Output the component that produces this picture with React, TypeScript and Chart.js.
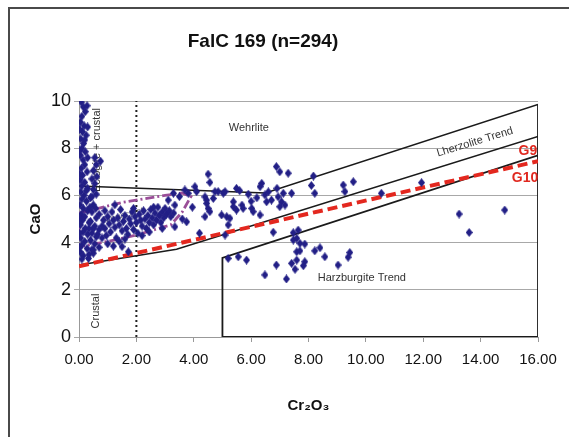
import { useEffect, useRef } from "react";
import { Chart, registerables } from "chart.js";
Chart.register(...registerables);

const chartTitle = "FalC 169 (n=294)";
const xAxisTitle = "Cr₂O₃";
const yAxisTitle = "CaO";
const xMin = 0, xMax = 16, xStep = 2;
const yMin = 0, yMax = 10, yStep = 2;

// Garnet analyses [Cr2O3, CaO]
const columnPts = [
  [0.08,9.95],[0.15,9.75],[0.22,9.55],[0.1,9.35],[0.05,9.1],[0.18,8.95],[0.12,8.7],[0.25,8.55],[0.06,8.4],[0.16,8.2],
  [0.1,8.0],[0.22,7.85],[0.05,7.7],[0.14,7.5],[0.2,7.3],[0.08,7.15],[0.28,7.0],[0.12,6.85],[0.04,6.65],[0.2,6.55],
  [0.1,6.4],[0.3,6.3],[0.06,6.15],[0.18,6.0],[0.1,5.85],[0.26,5.75],[0.04,5.6],[0.15,5.45],[0.3,5.35],[0.08,5.2],
  [0.2,5.1],[0.12,4.95],[0.35,4.85],[0.05,4.75],[0.22,4.6],[0.14,4.45],[0.3,4.35],[0.06,4.2],[0.2,4.05],[0.1,3.9],
  [0.28,3.75],[0.05,3.6],[0.15,3.45],[0.1,3.3],[0.3,8.9],[0.28,9.8],[0.2,8.35],[0.3,7.6],[0.25,6.2],[0.02,5.0],
  [0.02,4.4],[0.02,3.8],[0.02,7.9],[0.02,8.8],[0.02,6.9],
];
const lowClusterPts = [
  [0.4,5.9],[0.5,5.6],[0.45,5.3],[0.6,5.05],[0.4,4.9],[0.55,4.7],[0.7,4.55],[0.45,4.4],[0.6,4.25],[0.4,4.1],
  [0.55,3.95],[0.7,3.8],[0.45,3.7],[0.35,3.5],[0.5,4.6],[0.65,4.35],[0.38,5.5],[0.7,5.2],[0.35,4.6],[0.8,4.2],
  [0.58,5.45],[0.5,3.55],[0.33,3.33],[0.5,3.69],
];
const eclogitePts = [
  [0.55,7.6],[0.75,7.45],[0.6,7.3],[0.5,7.05],[0.45,6.7],[0.55,6.5],[0.5,6.25],[0.6,6.05],[0.45,5.95],[0.62,6.8],
];
const megacrystPts = [
  [0.85,4.95],[0.9,4.6],[0.95,4.3],[1.0,5.1],[1.05,4.8],[1.1,4.45],[1.15,5.3],[1.2,4.95],[1.25,4.65],[1.3,4.2],
  [1.35,5.05],[1.4,4.75],[1.45,5.4],[1.5,4.5],[1.55,4.9],[1.6,5.15],[1.65,4.6],[1.7,4.35],[1.75,5.0],[1.8,4.8],
  [1.85,5.3],[1.9,4.55],[1.95,5.1],[2.0,4.85],[2.05,4.4],[2.1,5.2],[2.15,4.95],[2.2,4.7],[2.25,5.35],[2.3,5.0],
  [2.35,4.6],[2.4,5.15],[2.45,4.85],[2.5,5.4],[2.55,5.05],[2.6,4.75],[2.65,5.25],[2.7,4.95],[2.75,5.5],[2.8,5.15],
  [2.85,4.85],[2.9,5.3],[2.95,5.05],[3.0,5.45],[3.05,5.2],[3.15,5.35],[3.2,5.1],[3.3,5.25],[1.25,5.6],[0.9,5.35],
  [1.6,4.15],[2.2,4.3],[1.0,3.95],[1.2,3.85],[1.5,3.83],[1.72,3.61],[2.45,4.45],[2.6,5.5],[1.9,5.45],[1.4,4.05],
  [0.8,4.7],[2.9,4.6],
];
const wehrlitePts = [
  [3.11,5.8],[3.29,6.09],[3.34,5.59],[3.69,6.23],[3.81,6.09],[4.04,6.37],[4.1,6.16],[4.5,6.9],[4.56,6.55],[3.75,4.88],
  [3.34,4.67],[4.45,5.66],[4.5,5.45],[4.39,5.1],[4.68,5.87],[4.85,6.16],[5.03,6.09],[5.15,5.1],[5.09,4.32],[4.39,5.94],
  [4.45,5.8],[4.56,5.31],[4.74,6.16],[5.09,6.16],[5.49,6.3],[5.38,5.73],[5.38,5.52],[5.49,5.38],[5.68,5.59],[5.72,5.45],
  [4.97,5.17],[5.26,5.03],[5.2,4.75],[6.02,5.45],[6.07,5.31],[6.31,5.17],[6.37,6.51],[6.31,6.37],[6.48,6.02],[6.54,5.73],
  [6.71,5.8],[6.88,7.22],[7.0,7.0],[7.29,6.94],[6.94,5.94],[7.06,5.73],[7.12,6.09],[7.0,5.52],[7.18,5.59],[7.41,6.09],
  [3.5,5.95],[3.95,5.5],[3.6,5.0],[4.2,4.4],[5.9,6.05],[6.2,5.9],[5.6,6.2],[6.0,5.75],[6.6,6.15],[6.9,6.3],
  [8.17,6.82],[8.1,6.42],[8.22,6.09],[9.21,6.44],[9.27,6.16],[9.56,6.58],[10.54,6.09],[11.94,6.54],
];
const harzburgitePts = [
  [5.2,3.33],[5.55,3.4],[5.84,3.26],[6.88,3.05],[6.48,2.63],[7.23,2.46],[7.47,4.42],[7.64,4.53],[6.77,4.44],[7.7,3.97],
  [7.87,3.94],[7.59,3.61],[7.7,3.65],[8.22,3.65],[8.4,3.78],[8.57,3.4],[9.44,3.58],[9.38,3.38],[9.03,3.05],[7.41,3.12],
  [7.59,3.26],[7.87,3.19],[7.82,3.02],[7.53,2.87],[7.47,4.11],[7.59,4.18],
];
const outlierPts = [[13.25,5.21],[13.6,4.43],[14.84,5.38]];

// Field boundaries [Cr2O3, CaO]
const wehrliteBoundary = [[0,6.4],[6.5,6.1],[16,9.85]];
const lherzoliteLower = [[0,3.05],[3.4,3.72],[16,8.5]];
const harzburgiteBox = [[16,9.85],[16,0],[5,0],[5,3.35],[16,7.7]];
const g9g10Line = [[0,3.0],[16,7.45]];
const crustalDivide = [[2,0],[2,10]];
const megacrystField = [[0,5.25],[1.5,5.7],[3,6.0],[3.6,6.1],[3.9,5.95],[3.6,5.3],[3.2,4.75],[2.0,4.32],[1.0,4.05],[0,3.83],[0,5.25]];

// Field labels [text, x, y, rotationDeg]
const fieldLabels = [
  ["Wehrlite", 5.92, 8.86, 0],
  ["Lherzolite Trend", 13.8, 8.26, -17],
  ["Harzburgite Trend", 9.86, 2.5, 0],
  ["Crustal", 0.59, 1.1, -90],
  ["Eclogite + crustal", 0.63, 7.92, -90],
  ["Megacryst", 1.55, 5.15, -15],
];
const redLabels = [["G9", 15.65, 7.88], ["G10", 15.55, 6.74]];

const toXY = (arr: number[][]) => arr.map(([x, y]) => ({ x, y }));

function makeDiamond(color: string) {
  const c = document.createElement("canvas");
  c.width = 7;
  c.height = 9;
  const g = c.getContext("2d")!;
  g.fillStyle = color;
  g.beginPath();
  g.moveTo(3.5, 0);
  g.lineTo(7, 4.5);
  g.lineTo(3.5, 9);
  g.lineTo(0, 4.5);
  g.closePath();
  g.fill();
  return c;
}

export default function App() {
  const ref = useRef<HTMLCanvasElement | null>(null);
  useEffect(() => {
    if (!ref.current) return;
    const font = "'Liberation Sans', Arial, sans-serif";
    const points = [
      ...columnPts, ...lowClusterPts, ...eclogitePts, ...megacrystPts,
      ...wehrlitePts, ...harzburgitePts, ...outlierPts,
    ];
    const lineDs = (data: number[][], color: string, width: number, dash: number[]) => ({
      type: "scatter" as const,
      data: toXY(data),
      showLine: true,
      borderColor: color,
      borderWidth: width,
      borderDash: dash,
      pointRadius: 0,
      pointHoverRadius: 0,
      fill: false,
      tension: 0,
    });
    const annot = {
      id: "annot",
      beforeDraw(chart: any) {
        const ctx = chart.ctx;
        ctx.save();
        ctx.fillStyle = "#ffffff";
        ctx.fillRect(0, 0, chart.width, chart.height);
        ctx.strokeStyle = "#4a4a4a";
        ctx.lineWidth = 2;
        ctx.beginPath();
        ctx.moveTo(9, 437);
        ctx.lineTo(9, 8);
        ctx.lineTo(569, 8);
        ctx.stroke();
        ctx.fillStyle = "#111";
        ctx.font = `bold 19px ${font}`;
        ctx.textAlign = "center";
        ctx.textBaseline = "middle";
        ctx.fillText(chartTitle, 263, 42);
        ctx.restore();
      },
      beforeDatasetsDraw(chart: any) {
        const ctx = chart.ctx;
        const xs = chart.scales.x, ys = chart.scales.y;
        ctx.save();
        for (const [text, x, y, rot] of fieldLabels as any[]) {
          ctx.save();
          ctx.translate(xs.getPixelForValue(x), ys.getPixelForValue(y));
          ctx.rotate((rot * Math.PI) / 180);
          ctx.font = text === "Megacryst" ? `9px ${font}` : `11px ${font}`;
          ctx.fillStyle = text === "Megacryst" ? "#777" : "#333";
          ctx.textAlign = "center";
          ctx.textBaseline = "middle";
          ctx.fillText(text, 0, 0);
          ctx.restore();
        }
        ctx.restore();
      },
      afterDatasetsDraw(chart: any) {
        const ctx = chart.ctx;
        const xs = chart.scales.x, ys = chart.scales.y;
        ctx.save();
        ctx.font = `bold 14px ${font}`;
        ctx.fillStyle = "#e0281f";
        ctx.textAlign = "center";
        ctx.textBaseline = "middle";
        for (const [text, x, y] of redLabels as any[]) {
          ctx.fillText(text, xs.getPixelForValue(x), ys.getPixelForValue(y));
        }
        ctx.restore();
      },
    };
    const chart = new Chart(ref.current, {
      type: "scatter",
      data: {
        datasets: [
          {
            data: toXY(points),
            pointStyle: makeDiamond("#221f86"),
            pointRadius: 4,
            backgroundColor: "#221f86",
            borderColor: "#221f86",
            borderWidth: 0,
          } as any,
          lineDs(g9g10Line, "#e3281f", 4, [10, 5]),
          lineDs(megacrystField, "#9a4e98", 2.8, [9, 3, 2, 3]),
          lineDs(wehrliteBoundary, "#1a1a1a", 1.5, []),
          lineDs(lherzoliteLower, "#1a1a1a", 1.5, []),
          lineDs(harzburgiteBox, "#1a1a1a", 1.8, []),
          lineDs(crustalDivide, "#222", 2, [2, 3]),
        ],
      },
      options: {
        animation: false,
        responsive: false,
        events: [],
        layout: { padding: { left: 0, right: 31, top: 101, bottom: 0 } },
        plugins: { legend: { display: false }, tooltip: { enabled: false }, title: { display: false } },
        scales: {
          x: {
            type: "linear",
            min: xMin,
            max: xMax,
            ticks: {
              stepSize: xStep,
              color: "#111",
              font: { size: 15, family: font },
              padding: 9,
              maxRotation: 0,
              callback: (v: any) => Number(v).toFixed(2),
            },
            grid: { drawOnChartArea: false, drawTicks: true, tickLength: 5, color: "#999" },
            border: { color: "#999", width: 1 },
            title: {
              display: true,
              text: xAxisTitle,
              color: "#111",
              font: { size: 15, weight: "bold", family: font },
              padding: 22,
            },
            afterFit: (s: any) => { s.height = 100; },
          },
          y: {
            type: "linear",
            min: yMin,
            max: yMax,
            ticks: { stepSize: yStep, color: "#111", font: { size: 18, family: font }, padding: 3 },
            grid: { color: "#a8a8a8", tickLength: 5, lineWidth: 1 },
            border: { color: "#999", width: 1 },
            title: {
              display: true,
              text: yAxisTitle,
              color: "#111",
              font: { size: 15, weight: "bold", family: font },
              padding: { top: 27, bottom: 0 },
            },
            afterFit: (s: any) => { s.width = 79; },
          },
        },
      } as any,
      plugins: [annot],
    });
    return () => chart.destroy();
  }, []);
  return (
    <div style={{ position: "absolute", left: 0, top: 0, width: 569, height: 437 }}>
      <canvas ref={ref} width={569} height={437} />
    </div>
  );
}
